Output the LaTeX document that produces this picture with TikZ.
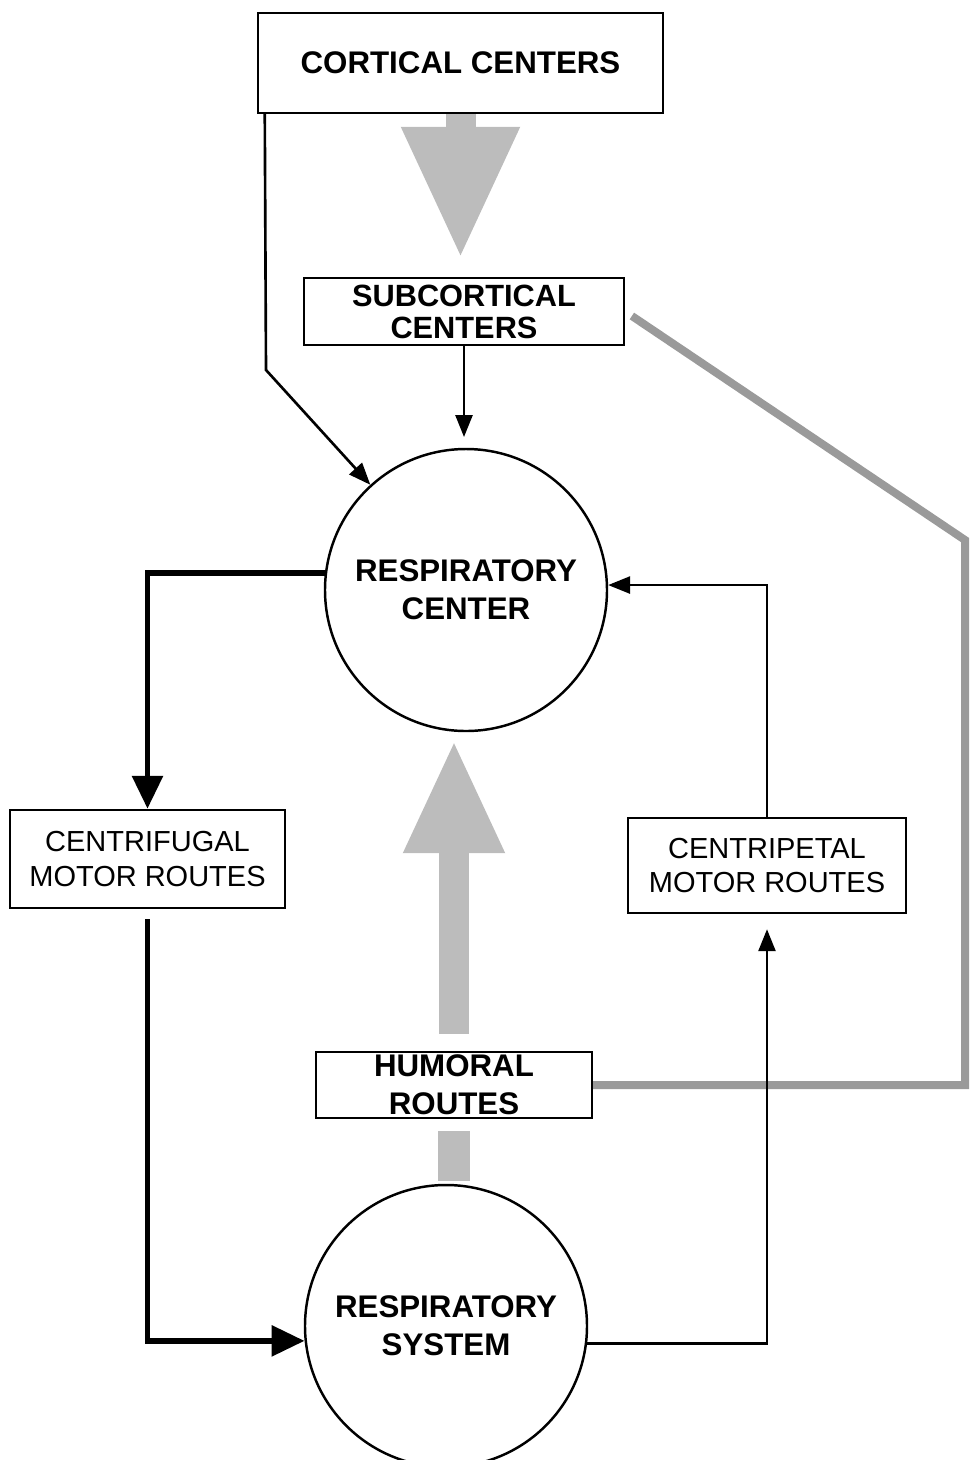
\documentclass[tikz,border=0pt]{standalone}
\usepackage{fontspec}
\setmainfont{Liberation Sans}
\usepackage{tikz}
\usetikzlibrary{arrows.meta}
\definecolor{hexcolor0xbcbcbc}{rgb}{0.737,0.737,0.737}
\definecolor{hexcolor0x9a9a9a}{rgb}{0.604,0.604,0.604}
\definecolor{myblack}{rgb}{0.000,0.000,0.000}
\definecolor{mywhite}{rgb}{1.000,1.000,1.000}
\tikzstyle{boldbox}=[rectangle,fill=mywhite,draw=myblack,line width=1.4pt,align=center,inner sep=0pt,font=\fontsize{17.8}{21.5}\selectfont\bfseries]
\tikzstyle{plainbox}=[rectangle,fill=mywhite,draw=myblack,line width=1.4pt,align=center,inner sep=0pt,font=\fontsize{16.5}{19.8}\selectfont]
\tikzstyle{center}=[circle,fill=mywhite,draw=myblack,line width=1.4pt,align=center,inner sep=0pt,minimum size=5.64cm,font=\fontsize{17.8}{21.5}\selectfont\bfseries]
\tikzstyle{thin}=[draw=myblack,line width=1.5pt,-{Triangle[length=0.44cm,width=0.34cm]}]
\tikzstyle{thick}=[draw=myblack,line width=3.4pt,-{Triangle[length=0.66cm,width=0.6cm]}]
\tikzstyle{bigarrow}=[draw=hexcolor0xbcbcbc,line width=0.6cm]
\tikzstyle{band}=[draw=hexcolor0x9a9a9a,line width=0.16cm]

\begin{document}
\begin{tikzpicture}
	\useasboundingbox (0,0) rectangle (19.44,-29.2);
	%\begin{pgfonlayer}{nodelayer}
		\node [style=boldbox,minimum width=8.1cm,minimum height=2cm] (0) at (9.21,-1.26) {CORTICAL CENTERS};
		\node [style=boldbox,minimum width=6.4cm,minimum height=1.34cm,font=\fontsize{17.5}{18.1}\selectfont\bfseries] (1) at (9.28,-6.23) {SUBCORTICAL\\CENTERS};
		\node [style=center] (2) at (9.32,-11.8) {RESPIRATORY\\CENTER};
		\node [style=plainbox,minimum width=5.5cm,minimum height=1.96cm] (3) at (2.95,-17.18) {CENTRIFUGAL\\MOTOR ROUTES};
		\node [style=plainbox,minimum width=5.56cm,minimum height=1.9cm] (4) at (15.34,-17.31) {CENTRIPETAL\\MOTOR ROUTES};
		\node [style=boldbox,minimum width=5.52cm,minimum height=1.32cm] (5) at (9.08,-21.7) {HUMORAL\\ROUTES};
		\node [style=center] (6) at (8.92,-26.52) {RESPIRATORY\\SYSTEM};
		\coordinate (7) at (5.32,-7.4);
		\coordinate (8) at (9.28,-8.74);
		\coordinate (9) at (19.3,-10.8);

		% grey routes
		\draw [style=bigarrow,-{Triangle[length=2.64cm,width=2.2cm]},shorten >=0.36cm] (0.south) -- (0.south |- 1.north);
		\draw [style=bigarrow,-{Triangle[length=2.28cm,width=1.86cm]},shorten <=0.34cm,shorten >=0.14cm] (5.north) -- (5.north |- 2.south);
		\draw [style=bigarrow,line width=0.64cm,shorten <=0.24cm,shorten >=0.06cm] (5.south) -- (5.south |- 6.north);
		\draw [style=band,shorten >=0.16cm] (5.east) -| (9) -- (1.east);

		% nervous routes
		\draw [style=thin] ([xshift=0.16cm]0.south west) -- (7) -- (2);
		\draw [style=thin] (1.south) -- (8);
		\draw [style=thick] (2.173) -| (3.north);
		\draw [style=thick,shorten <=0.2cm] (3.south) |- (6.186);
		\draw [style=thin,shorten >=0.3cm] (6.353) -| (4.south);
		\draw [style=thin] (4.north) |- (2.2);
\end{tikzpicture}
\end{document}
